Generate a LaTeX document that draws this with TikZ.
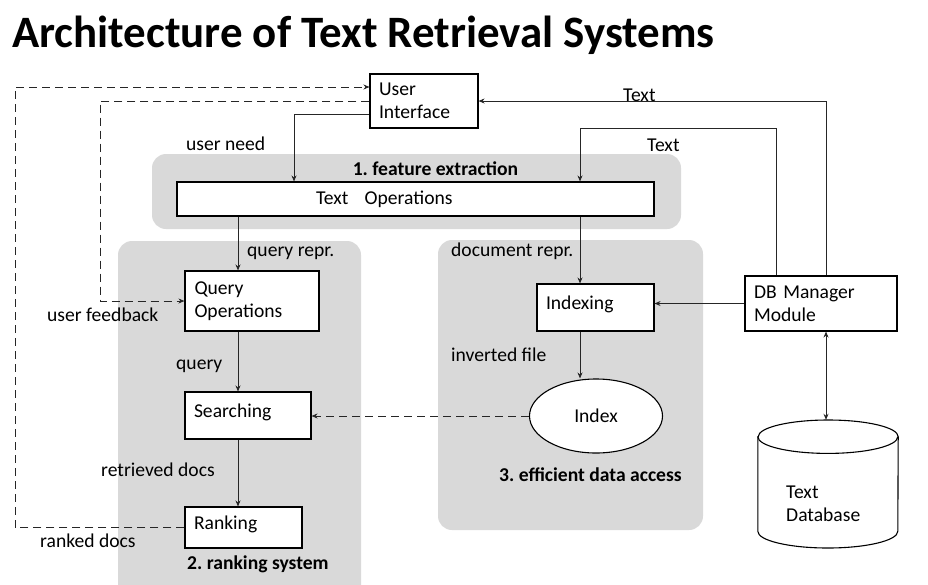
\documentclass[tikz,border=0pt]{standalone}
\usepackage{fontspec}
\setmainfont{Carlito}
\usetikzlibrary{positioning,shapes.geometric,arrows.meta}
\frenchspacing

\begin{document}
\begin{tikzpicture}[x=1pt,y=-1pt,font=\fontsize{19.6}{23}\selectfont,
    box/.style={rectangle,draw,fill=white,line width=1.1pt,align=left,inner xsep=9pt,inner ysep=0pt},
    uptext/.style={text depth=9pt},
    lbl/.style={anchor=base west,inner sep=0pt},
    bold/.style={font=\fontsize{19.6}{23}\selectfont\bfseries},
    region/.style={fill=black!15,rounded corners=14pt},
    flow/.style={-{Stealth[length=6pt,width=5pt]},line width=0.9pt,black!85},
    fb/.style={flow,dash pattern=on 8pt off 5pt}]
  \useasboundingbox (0,0) rectangle (928,584);
  % title
  \node[lbl,font=\fontsize{44.9}{52}\selectfont\bfseries] (title) at (12,47) {Architecture of Text Retrieval Systems};
  % grey areas
  \fill[region] (152,154) rectangle (681,229);
  \fill[region] (118,241) rectangle (361,610);
  \fill[region] (438,240) rectangle (703,530);
  % helper points
  \coordinate (fbA) at (15,87);
  \coordinate (fbB) at (100,101);
  \coordinate (tA) at (826,128);
  \coordinate (tB) at (776,128);
  \coordinate (un) at (294,114);
  \coordinate (qx) at (238,0);
  \coordinate (dn) at (580,0);
  % User Interface
  \node[box,minimum width=108pt,minimum height=54pt,text width=90pt] (ui) at (424,101) {User\\Interface};
  % Text Operations
  \node[box,minimum width=477pt,minimum height=34pt,text width=459pt] (textops) at (415.5,199) {\hspace*{130pt}Text\enspace\ Operations};
  % Query Operations
  \node[box,minimum width=134pt,minimum height=60pt,text width=115pt] (qo) at (252,301) {Query\\Operations};
  % Searching
  \node[box,uptext,minimum width=126pt,minimum height=47pt,text width=108pt] (search) at (248,415.5) {Searching};
  % Ranking
  \node[box,uptext,minimum width=117pt,minimum height=41pt,text width=99pt] (rank) at (243.5,527.5) {Ranking};
  % Indexing
  \node[box,uptext,minimum width=117pt,minimum height=47pt,text width=99pt] (indexing) at (595.5,307.5) {Indexing};
  % Index
  \node[ellipse,draw,fill=white,line width=1.1pt,minimum width=133pt,minimum height=74pt,inner sep=0pt] (index) at (596,416) {Index};
  % DB Manager
  \node[box,minimum width=152pt,minimum height=55pt,text width=134pt] (dbm) at (821,303.5) {DB Manager\\Module};
  % Text Database (drum)
  \node[minimum width=140pt,minimum height=128pt,inner sep=0pt] (db) at (828,484) {};
  \draw[fill=white,line width=1.1pt] (db.west |- 0,436.7) -- (db.west |- 0,531.3) arc (180:360:70pt and 16.7pt)
        -- (db.east |- 0,436.7) arc (0:180:70pt and 16.7pt) -- cycle;
  \draw[line width=1.1pt] (db.west |- 0,436.7) arc (180:360:70pt and 16.7pt);
  \node[anchor=west,align=left,inner sep=0pt] (dbtext) at (786,504) {Text\\Database};
  % labels
  \node[lbl] (need) at (186,150.7) {user need};
  \node[anchor=base,inner sep=0pt,bold] (feat) at (435.5,175.7) {1. feature extraction};
  \node[lbl] (txtA) at (623,101.7) {Text};
  \node[lbl] (txtB) at (647,151) {Text};
  \node[lbl] (qrepr) at (247,256) {query repr.};
  \node[lbl] (drepr) at (451,256) {document repr.};
  \node[lbl] (ufb) at (47,321.7) {user feedback};
  \node[lbl] (qry) at (176,369) {query};
  \node[lbl] (inv) at (451,361) {inverted file};
  \node[lbl] (retr) at (101,476) {retrieved docs};
  \node[lbl,bold] (eff) at (499,481.7) {3. efficient data access};
  \node[lbl] (rkd) at (40,547.7) {ranked docs};
  \node[lbl,bold] (rsys) at (187,569) {2. ranking system};
  % main flow
  \draw[flow] (ui.west |- un) -| (textops.north -| un);
  \draw[flow] (dbm.north -| tA) |- (ui.east);
  \draw[flow] (dbm.north -| tB) -- (tB) -| (textops.north -| dn);
  \draw[flow] (textops.south -| qx) -- (qo.north -| qx);
  \draw[flow] (qo.south -| qx) -- (search.north -| qx);
  \draw[flow] (search.south -| qx) -- (rank.north -| qx);
  \draw[flow] (textops.south -| dn) -- (indexing.north -| dn);
  \draw[flow] (indexing.south -| dn) -- (index.north -| dn);
  \draw[flow] (dbm.west) -- (indexing.east |- dbm.west);
  \draw[flow,{Stealth[length=6pt,width=5pt]}-{Stealth[length=6pt,width=5pt]}] (dbm.south -| tA) -- (db.north -| tA);
  % feedback
  \draw[fb] (index.west) -- (search.east |- index.west);
  \draw[fb] (rank.west) -| (fbA) -- (ui.west |- fbA);
  \draw[fb] (ui.west) -- (fbB) |- (qo.west);
\end{tikzpicture}
\end{document}
